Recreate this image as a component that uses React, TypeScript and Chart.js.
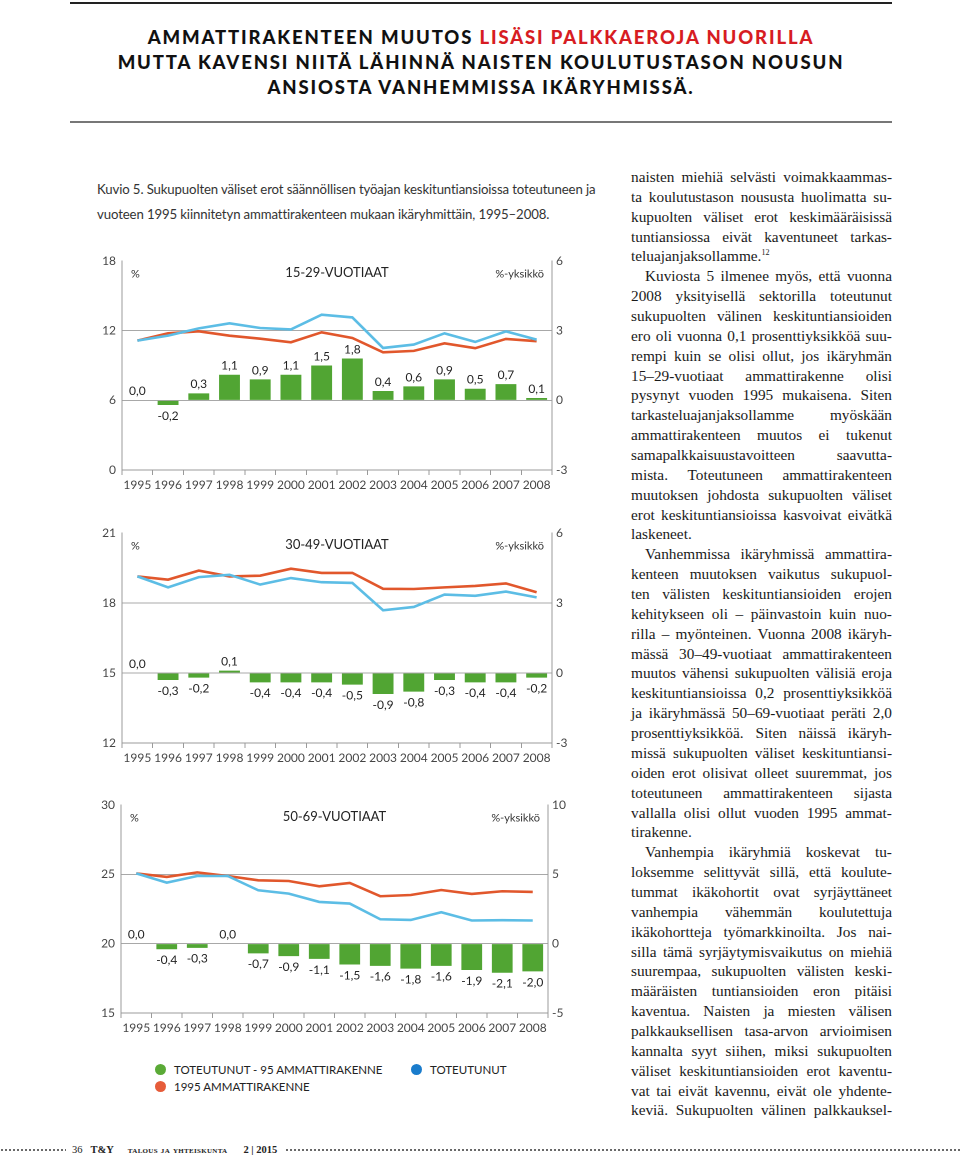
import React, { useEffect, useRef } from "react";
import { Chart, registerables } from "chart.js";

Chart.register(...registerables);

// ---------- DATA ----------
const years = ["1995", "1996", "1997", "1998", "1999", "2000", "2001", "2002", "2003", "2004", "2005", "2006", "2007", "2008"];

// 15-29-vuotiaat
const diff1529 = [0.0, -0.2, 0.3, 1.1, 0.9, 1.1, 1.5, 1.8, 0.4, 0.6, 0.9, 0.5, 0.7, 0.1];
const actual1529 = [11.14, 11.57, 12.2, 12.63, 12.23, 12.11, 13.37, 13.14, 10.51, 10.8, 11.77, 11.03, 11.94, 11.23];
const fixed1529 = [11.14, 11.77, 11.94, 11.57, 11.31, 11.0, 11.86, 11.37, 10.14, 10.26, 10.91, 10.49, 11.29, 11.09];

// 30-49-vuotiaat
const diff3049 = [0.0, -0.3, -0.2, 0.1, -0.4, -0.4, -0.4, -0.5, -0.9, -0.8, -0.3, -0.4, -0.4, -0.2];
const actual3049 = [19.14, 18.67, 19.11, 19.21, 18.79, 19.07, 18.89, 18.86, 17.69, 17.83, 18.36, 18.31, 18.49, 18.24];
const fixed3049 = [19.14, 19.0, 19.39, 19.14, 19.17, 19.47, 19.29, 19.29, 18.61, 18.6, 18.67, 18.73, 18.84, 18.46];

// 50-69-vuotiaat
const diff5069 = [0.0, -0.4, -0.3, 0.0, -0.7, -0.9, -1.1, -1.5, -1.6, -1.8, -1.6, -1.9, -2.1, -2.0];
const actual5069 = [25.07, 24.4, 24.88, 24.88, 23.85, 23.61, 23.01, 22.89, 21.76, 21.71, 22.27, 21.67, 21.69, 21.67];
const fixed5069 = [25.07, 24.81, 25.14, 24.88, 24.57, 24.52, 24.14, 24.38, 23.42, 23.51, 23.87, 23.59, 23.78, 23.73];

const panelTitles = ["15-29-VUOTIAAT", "30-49-VUOTIAAT", "50-69-VUOTIAAT"];
const leftAxes = [
  { min: 0, max: 18, step: 6 },
  { min: 12, max: 21, step: 3 },
  { min: 15, max: 30, step: 5 },
];
const rightAxes = [
  { min: -3, max: 6, step: 3 },
  { min: -3, max: 6, step: 3 },
  { min: -5, max: 10, step: 5 },
];

const legendLabels = ["TOTEUTUNUT - 95 AMMATTIRAKENNE", "TOTEUTUNUT", "1995 AMMATTIRAKENNE"];

const titleLines = [
  ["AMMATTIRAKENTEEN MUUTOS ", "LISÄSI PALKKAEROJA NUORILLA"],
  ["MUTTA KAVENSI NIITÄ LÄHINNÄ NAISTEN KOULUTUSTASON NOUSUN", ""],
  ["ANSIOSTA VANHEMMISSA IKÄRYHMISSÄ.", ""],
];

const captionLines = [
  "Kuvio 5. Sukupuolten väliset erot säännöllisen työajan keskituntiansioissa toteutuneen ja",
  "vuoteen 1995 kiinnitetyn ammattirakenteen mukaan ikäryhmittäin, 1995–2008.",
];

const bodyLines = [
  "naisten miehiä selvästi voimakkaammas-",
  "ta koulutustason noususta huolimatta su-",
  "kupuolten väliset erot keskimääräisissä",
  "tuntiansiossa eivät kaventuneet tarkas-",
  "teluajanjaksollamme.",
  "Kuviosta 5 ilmenee myös, että vuonna",
  "2008 yksityisellä sektorilla toteutunut",
  "sukupuolten välinen keskituntiansioiden",
  "ero oli vuonna 0,1 prosenttiyksikköä suu-",
  "rempi kuin se olisi ollut, jos ikäryhmän",
  "15–29-vuotiaat ammattirakenne olisi",
  "pysynyt vuoden 1995 mukaisena. Siten",
  "tarkasteluajanjaksollamme myöskään",
  "ammattirakenteen muutos ei tukenut",
  "samapalkkaisuustavoitteen saavutta-",
  "mista. Toteutuneen ammattirakenteen",
  "muutoksen johdosta sukupuolten väliset",
  "erot keskituntiansioissa kasvoivat eivätkä",
  "laskeneet.",
  "Vanhemmissa ikäryhmissä ammattira-",
  "kenteen muutoksen vaikutus sukupuol-",
  "ten välisten keskituntiansioiden erojen",
  "kehitykseen oli – päinvastoin kuin nuo-",
  "rilla – myönteinen. Vuonna 2008 ikäryh-",
  "mässä 30–49-vuotiaat ammattirakenteen",
  "muutos vähensi sukupuolten välisiä eroja",
  "keskituntiansioissa 0,2 prosenttiyksikköä",
  "ja ikäryhmässä 50–69-vuotiaat peräti 2,0",
  "prosenttiyksikköä. Siten näissä ikäryh-",
  "missä sukupuolten väliset keskituntiansi-",
  "oiden erot olisivat olleet suuremmat, jos",
  "toteutuneen ammattirakenteen sijasta",
  "vallalla olisi ollut vuoden 1995 ammat-",
  "tirakenne.",
  "Vanhempia ikäryhmiä koskevat tu-",
  "loksemme selittyvät sillä, että koulute-",
  "tummat ikäkohortit ovat syrjäyttäneet",
  "vanhempia vähemmän koulutettuja",
  "ikäkohortteja työmarkkinoilta. Jos nai-",
  "silla tämä syrjäytymisvaikutus on miehiä",
  "suurempaa, sukupuolten välisten keski-",
  "määräisten tuntiansioiden eron pitäisi",
  "kaventua. Naisten ja miesten välisen",
  "palkkauksellisen tasa-arvon arvioimisen",
  "kannalta syyt siihen, miksi sukupuolten",
  "väliset keskituntiansioiden erot kaventu-",
  "vat tai eivät kavennu, eivät ole yhdente-",
  "keviä. Sukupuolten välinen palkkauksel-",
];
const indentLines = [5, 19, 34];
const lastLines = [4, 18, 33];

// ---------- STYLE ----------
const GREEN = "#51a533";
const BLUE = "#5cbde5";
const RED = "#e1572c";
const AXIS = "#9a9a9a";
const SANS = "Lato, 'Open Sans', sans-serif";

const fmt = (v: number) => v.toFixed(1).replace(".", ",");

const panelPlugin = {
  id: "panelText",
  afterDatasetsDraw(chart: any, _args: any, opts: any) {
    const ctx = chart.ctx;
    const meta = chart.getDatasetMeta(0);
    const data = chart.data.datasets[0].data as number[];
    ctx.save();
    ctx.font = `12px ${SANS}`;
    ctx.fillStyle = "#222";
    ctx.textAlign = "center";
    meta.data.forEach((el: any, i: number) => {
      const v = data[i];
      const t = fmt(v);
      if (v >= 0) {
        ctx.textBaseline = "bottom";
        ctx.fillText(t, el.x, el.y - 3);
      } else {
        ctx.textBaseline = "top";
        ctx.fillText(t, el.x, el.y + 5);
      }
    });
    const a = chart.chartArea;
    const y = a.top + 13;
    ctx.textBaseline = "middle";
    ctx.fillStyle = "#333";
    ctx.font = `11px ${SANS}`;
    ctx.textAlign = "left";
    ctx.fillText("%", a.left + 9, y);
    ctx.textAlign = "right";
    ctx.fillText("%-yksikkö", a.right - 8, y);
    ctx.font = `13px ${SANS}`;
    ctx.textAlign = "center";
    ctx.fillStyle = "#222";
    ctx.fillText(opts.title, (a.left + a.right) / 2, y - 1);
    ctx.restore();
  },
};

type Box = { left: number; top: number; width: number; height: number };
type Area = { left: number; right: number; top: number; bottom: number };

function Panel(props: {
  idx: number;
  diff: number[];
  actual: number[];
  fixed: number[];
  box: Box;
  area: Area;
}) {
  const ref = useRef<HTMLCanvasElement>(null);
  const { idx, diff, actual, fixed, box, area } = props;
  useEffect(() => {
    if (!ref.current) return;
    const leftW = area.left - box.left;
    const rightW = box.left + box.width - area.right;
    const padTop = area.top - box.top;
    const xH = box.top + box.height - area.bottom;
    const L = leftAxes[idx];
    const R = rightAxes[idx];
    const chart = new Chart(ref.current, {
      type: "bar",
      data: {
        labels: years,
        datasets: [
          {
            type: "bar",
            data: diff,
            backgroundColor: GREEN,
            yAxisID: "y1",
            barPercentage: 0.68,
            categoryPercentage: 1,
            order: 3,
          } as any,
          {
            type: "line",
            data: fixed,
            borderColor: RED,
            borderWidth: 2.6,
            pointRadius: 0,
            yAxisID: "y",
            tension: 0,
            order: 2,
          } as any,
          {
            type: "line",
            data: actual,
            borderColor: BLUE,
            borderWidth: 2.6,
            pointRadius: 0,
            yAxisID: "y",
            tension: 0,
            order: 1,
          } as any,
        ],
      },
      options: {
        responsive: false,
        animation: false,
        devicePixelRatio: 2,
        layout: { padding: { top: padTop, left: 0, right: 0, bottom: 0 } },
        plugins: {
          legend: { display: false },
          tooltip: { enabled: false },
          panelText: { title: panelTitles[idx] },
        } as any,
        scales: {
          x: {
            type: "category",
            offset: true,
            grid: {
              offset: true,
              drawOnChartArea: false,
              tickLength: 5,
              color: AXIS,
            },
            border: { display: true, color: AXIS, width: 1 },
            ticks: {
              padding: 3,
              color: "#444",
              font: { family: SANS, size: 12 },
              maxRotation: 0,
              autoSkip: false,
            },
            afterFit: (s: any) => {
              s.height = xH;
            },
          },
          y: {
            position: "left",
            min: L.min,
            max: L.max,
            grid: {
              drawTicks: false,
              color: (c: any) => (c.tick && c.tick.value === L.max ? "rgba(0,0,0,0)" : "#a8a8a8"),
              lineWidth: 1,
            },
            border: { display: true, color: AXIS, width: 1 },
            ticks: {
              stepSize: L.step,
              padding: 6,
              color: "#444",
              font: { family: SANS, size: 12 },
              callback: (v: any) => String(v),
            },
            afterFit: (s: any) => {
              s.width = leftW;
            },
          },
          y1: {
            position: "right",
            min: R.min,
            max: R.max,
            grid: { drawOnChartArea: false, drawTicks: false, color: AXIS },
            border: { display: true, color: AXIS, width: 1 },
            ticks: {
              stepSize: R.step,
              padding: 4,
              color: "#444",
              font: { family: SANS, size: 12 },
              callback: (v: any) => String(v),
            },
            afterFit: (s: any) => {
              s.width = rightW;
            },
          },
        },
      } as any,
      plugins: [panelPlugin as any],
    });
    return () => chart.destroy();
  }, []);
  return (
    <canvas
      ref={ref}
      width={box.width}
      height={box.height}
      style={{ position: "absolute", left: box.left, top: box.top, width: box.width, height: box.height }}
    />
  );
}

const LH = 19.86;

function BodyLine({ text, i }: { text: string; i: number }) {
  const indent = indentLines.includes(i);
  const last = lastLines.includes(i);
  const base: React.CSSProperties = {
    height: LH,
    lineHeight: LH + "px",
    whiteSpace: "nowrap",
    paddingLeft: indent ? 14 : 0,
  };
  if (last) {
    return (
      <div style={base}>
        {text}
        {i === 4 ? <sup style={{ fontSize: 8, verticalAlign: "6px", lineHeight: 0 }}>12</sup> : null}
      </div>
    );
  }
  const words = text.split(" ");
  return (
    <div style={{ ...base, display: "flex", justifyContent: "space-between" }}>
      {words.map((w, k) => (
        <span key={k}>{w}</span>
      ))}
    </div>
  );
}

function Dot({ color }: { color: string }) {
  return (
    <span
      style={{
        display: "inline-block",
        width: 11,
        height: 11,
        borderRadius: "50%",
        background: color,
        marginRight: 8,
        verticalAlign: "-1px",
      }}
    />
  );
}

const dots: React.CSSProperties = {
  position: "absolute",
  top: 1148,
  height: 4,
  backgroundImage: "radial-gradient(circle, #666 0.7px, rgba(0,0,0,0) 1.1px)",
  backgroundSize: "4px 4px",
};

export default function App() {
  return (
    <div
      style={{
        position: "absolute",
        left: 0,
        top: 0,
        width: 960,
        height: 1157,
        background: "#fff",
        overflow: "hidden",
        fontFamily: SANS,
      }}
    >
      {/* header rules */}
      <div style={{ position: "absolute", left: 70, top: 2, width: 822, height: 2, background: "#222" }} />
      <div style={{ position: "absolute", left: 70, top: 121, width: 822, height: 1.5, background: "#777" }} />
      <div
        style={{
          position: "absolute",
          left: 70,
          top: 25,
          width: 822,
          textAlign: "center",
          fontFamily: SANS,
          fontWeight: 900,
          fontSize: 18.5,
          letterSpacing: 1.85,
          lineHeight: "25px",
          color: "#111",
        }}
      >
        {titleLines.map((l, i) => (
          <div key={i} style={{ whiteSpace: "nowrap" }}>
            {l[0]}
            <span style={{ color: "#d71c22" }}>{l[1]}</span>
          </div>
        ))}
      </div>

      {/* caption */}
      <div
        style={{
          position: "absolute",
          left: 97,
          top: 177,
          fontFamily: SANS,
          fontSize: 13.2,
          letterSpacing: -0.12,
          lineHeight: "25px",
          color: "#333",
          whiteSpace: "nowrap",
        }}
      >
        {captionLines.map((l, i) => (
          <div key={i}>{l}</div>
        ))}
      </div>

      <Panel
        idx={0}
        diff={diff1529}
        actual={actual1529}
        fixed={fixed1529}
        box={{ left: 80, top: 240, width: 520, height: 272 }}
        area={{ left: 122, right: 552, top: 261, bottom: 470 }}
      />
      <Panel
        idx={1}
        diff={diff3049}
        actual={actual3049}
        fixed={fixed3049}
        box={{ left: 80, top: 512, width: 520, height: 272 }}
        area={{ left: 122, right: 552, top: 533, bottom: 743 }}
      />
      <Panel
        idx={2}
        diff={diff5069}
        actual={actual5069}
        fixed={fixed5069}
        box={{ left: 80, top: 784, width: 520, height: 272 }}
        area={{ left: 121, right: 548, top: 805, bottom: 1013 }}
      />

      {/* legend */}
      <div style={{ position: "absolute", left: 155, top: 1061, fontSize: 11.5, color: "#222", lineHeight: "17px", whiteSpace: "nowrap" }}>
        <div>
          <Dot color="#5aaa36" />
          {legendLabels[0]}
        </div>
        <div>
          <Dot color="#e65c3a" />
          {legendLabels[2]}
        </div>
      </div>
      <div style={{ position: "absolute", left: 411, top: 1061, fontSize: 11.5, color: "#222", lineHeight: "17px", whiteSpace: "nowrap" }}>
        <Dot color="#1a7ccc" />
        {legendLabels[1]}
      </div>

      {/* body text */}
      <div
        style={{
          position: "absolute",
          left: 631,
          top: 167,
          width: 261,
          fontFamily: "'Liberation Serif', serif",
          fontSize: 15.3,
          color: "#1a1a1a",
        }}
      >
        {bodyLines.map((t, i) => (
          <BodyLine key={i} text={t} i={i} />
        ))}
      </div>

      {/* footer */}
      <div style={{ ...dots, left: 0, width: 66 }} />
      <div
        style={{
          position: "absolute",
          left: 72,
          top: 1143,
          fontFamily: "'Liberation Serif', serif",
          fontSize: 10.5,
          color: "#222",
          whiteSpace: "nowrap",
          lineHeight: "14px",
        }}
      >
        <span>36</span>
        <span style={{ fontWeight: 700, marginLeft: 8 }}>T&amp;Y</span>
        <span style={{ fontWeight: 700, marginLeft: 14, fontVariant: "small-caps", letterSpacing: 0.3 }}>talous ja yhteiskunta</span>
        <span style={{ fontWeight: 700, marginLeft: 16 }}>2 | 2015</span>
      </div>
      <div style={{ ...dots, left: 285, width: 675 }} />
    </div>
  );
}
